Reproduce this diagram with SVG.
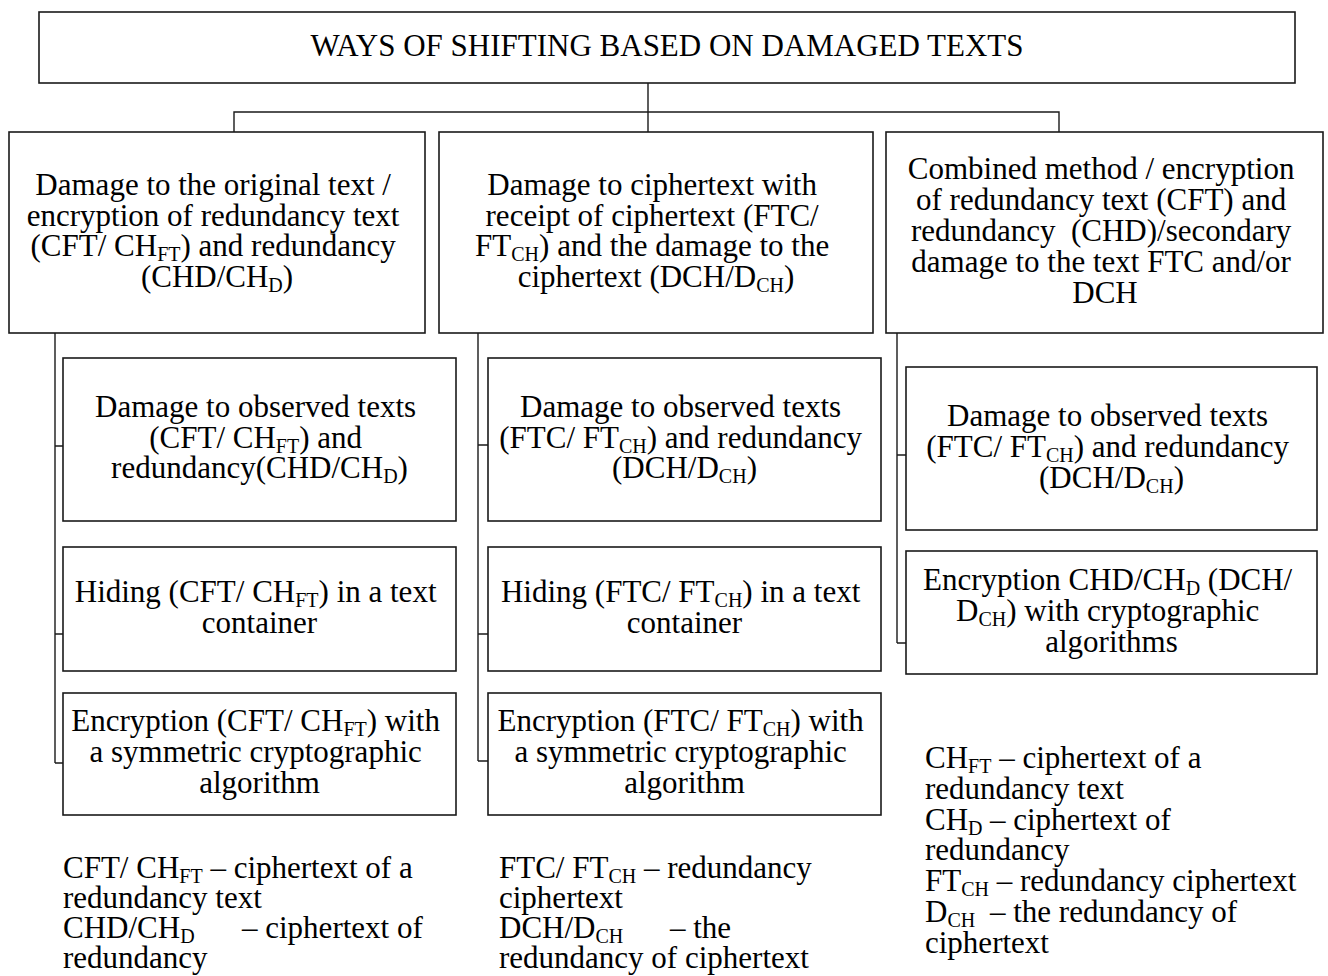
<svg xmlns="http://www.w3.org/2000/svg" width="1328" height="976" viewBox="0 0 1328 976">
<style>
.box{fill:#fff;stroke:#1a1a1a;stroke-width:1.6}
.ln{fill:none;stroke:#1a1a1a;stroke-width:1.4}
text{font-family:"Liberation Serif","Times New Roman",serif;font-size:31px;fill:#000}
.c{text-anchor:middle}
.s{font-size:20px}
</style>
<rect width="1328" height="976" fill="#fff"/>
<g id="connectors">
<path class="ln" d="M648,83 V132 M234,132 V112 H1059 V132"/>
<path class="ln" d="M55,333 V763 M55,446 H63 M55,634 H63 M55,763 H63"/>
<path class="ln" d="M478,333 V761 M478,445 H488 M478,634 H488 M478,761 H488"/>
<path class="ln" d="M897,333 V643 M897,455 H906 M897,643 H906"/>
</g>
<g id="root">
<rect class="box" x="39" y="12" width="1256" height="71"/>
<text class="c" x="667" y="56">WAYS OF SHIFTING BASED ON DAMAGED TEXTS</text>
</g>
<g id="m1">
<rect class="box" x="9" y="132" width="416" height="201"/>
<text class="c">
<tspan x="217" y="195">Damage to the original text /</tspan>
<tspan x="217" y="225.5">encryption of redundancy text</tspan>
<tspan x="217" y="256">(CFT/ CH</tspan><tspan class="s" dy="5">FT</tspan><tspan dy="-5">) and redundancy</tspan>
<tspan x="217" y="287">(CHD/CH</tspan><tspan class="s" dy="5">D</tspan><tspan dy="-5">)</tspan>
</text>
</g>
<g id="m2">
<rect class="box" x="439" y="132" width="434" height="201"/>
<text class="c">
<tspan x="656" y="195">Damage to ciphertext with</tspan>
<tspan x="656" y="225.5">receipt of ciphertext (FTC/</tspan>
<tspan x="656" y="256">FT</tspan><tspan class="s" dy="5">CH</tspan><tspan dy="-5">) and the damage to the</tspan>
<tspan x="656" y="287">ciphertext (DCH/D</tspan><tspan class="s" dy="5">CH</tspan><tspan dy="-5">)</tspan>
</text>
</g>
<g id="m3">
<rect class="box" x="886" y="132" width="437" height="201"/>
<text class="c">
<tspan x="1105" y="179">Combined method / encryption</tspan>
<tspan x="1105" y="210">of redundancy text (CFT) and</tspan>
<tspan x="1105" y="241">redundancy&#160; (CHD)/secondary</tspan>
<tspan x="1105" y="272">damage to the text FTC and/or</tspan>
<tspan x="1105" y="303">DCH</tspan>
</text>
</g>
<g id="a1">
<rect class="box" x="63" y="358" width="393" height="163"/>
<text class="c">
<tspan x="259.5" y="417">Damage to observed texts</tspan>
<tspan x="259.5" y="447.5">(CFT/ CH</tspan><tspan class="s" dy="5">FT</tspan><tspan dy="-5">) and</tspan>
<tspan x="259.5" y="478">redundancy(CHD/CH</tspan><tspan class="s" dy="5">D</tspan><tspan dy="-5">)</tspan>
</text>
</g>
<g id="b1">
<rect class="box" x="63" y="547" width="393" height="124"/>
<text class="c">
<tspan x="259.5" y="602">Hiding (CFT/ CH</tspan><tspan class="s" dy="5">FT</tspan><tspan dy="-5">) in a text</tspan>
<tspan x="259.5" y="632.5">container</tspan>
</text>
</g>
<g id="c1">
<rect class="box" x="63" y="693" width="393" height="122"/>
<text class="c">
<tspan x="259.5" y="731">Encryption (CFT/ CH</tspan><tspan class="s" dy="5">FT</tspan><tspan dy="-5">) with</tspan>
<tspan x="259.5" y="762">a symmetric cryptographic</tspan>
<tspan x="259.5" y="793">algorithm</tspan>
</text>
</g>
<g id="a2">
<rect class="box" x="488" y="358" width="393" height="163"/>
<text class="c">
<tspan x="684.5" y="417">Damage to observed texts</tspan>
<tspan x="684.5" y="447.5">(FTC/ FT</tspan><tspan class="s" dy="5">CH</tspan><tspan dy="-5">) and redundancy</tspan>
<tspan x="684.5" y="478">(DCH/D</tspan><tspan class="s" dy="5">CH</tspan><tspan dy="-5">)</tspan>
</text>
</g>
<g id="b2">
<rect class="box" x="488" y="547" width="393" height="124"/>
<text class="c">
<tspan x="684.5" y="602">Hiding (FTC/ FT</tspan><tspan class="s" dy="5">CH</tspan><tspan dy="-5">) in a text</tspan>
<tspan x="684.5" y="632.5">container</tspan>
</text>
</g>
<g id="c2">
<rect class="box" x="488" y="693" width="393" height="122"/>
<text class="c">
<tspan x="684.5" y="731">Encryption (FTC/ FT</tspan><tspan class="s" dy="5">CH</tspan><tspan dy="-5">) with</tspan>
<tspan x="684.5" y="762">a symmetric cryptographic</tspan>
<tspan x="684.5" y="793">algorithm</tspan>
</text>
</g>
<g id="a3">
<rect class="box" x="906" y="367" width="411" height="163"/>
<text class="c">
<tspan x="1111.5" y="426">Damage to observed texts</tspan>
<tspan x="1111.5" y="457">(FTC/ FT</tspan><tspan class="s" dy="5">CH</tspan><tspan dy="-5">) and redundancy</tspan>
<tspan x="1111.5" y="488">(DCH/D</tspan><tspan class="s" dy="5">CH</tspan><tspan dy="-5">)</tspan>
</text>
</g>
<g id="b3">
<rect class="box" x="906" y="551" width="411" height="123"/>
<text class="c">
<tspan x="1111.5" y="590">Encryption CHD/CH</tspan><tspan class="s" dy="5">D</tspan><tspan dy="-5"> (DCH/</tspan>
<tspan x="1111.5" y="621">D</tspan><tspan class="s" dy="5">CH</tspan><tspan dy="-5">) with cryptographic</tspan>
<tspan x="1111.5" y="652">algorithms</tspan>
</text>
</g>
<g id="legend1">
<text>
<tspan x="63" y="878">CFT/ CH</tspan><tspan class="s" dy="5">FT</tspan><tspan dy="-5"> – ciphertext of a</tspan>
<tspan x="63" y="908">redundancy text</tspan>
<tspan x="63" y="938">CHD/CH</tspan><tspan class="s" dy="5">D</tspan><tspan x="242" y="938">– ciphertext of</tspan>
<tspan x="63" y="968">redundancy</tspan>
</text>
</g>
<g id="legend2">
<text>
<tspan x="499" y="878">FTC/ FT</tspan><tspan class="s" dy="5">CH</tspan><tspan dy="-5"> – redundancy</tspan>
<tspan x="499" y="908">ciphertext</tspan>
<tspan x="499" y="938">DCH/D</tspan><tspan class="s" dy="5">CH</tspan><tspan x="670" y="938">– the</tspan>
<tspan x="499" y="968">redundancy of ciphertext</tspan>
</text>
</g>
<g id="legend3">
<text>
<tspan x="925" y="768">CH</tspan><tspan class="s" dy="5">FT</tspan><tspan dy="-5"> – ciphertext of a</tspan>
<tspan x="925" y="799">redundancy text</tspan>
<tspan x="925" y="830">CH</tspan><tspan class="s" dy="5">D</tspan><tspan x="990" y="830">– ciphertext of</tspan>
<tspan x="925" y="860">redundancy</tspan>
<tspan x="925" y="891">FT</tspan><tspan class="s" dy="5">CH</tspan><tspan dy="-5"> – redundancy ciphertext</tspan>
<tspan x="925" y="922">D</tspan><tspan class="s" dy="5">CH</tspan><tspan x="990" y="922">– the redundancy of</tspan>
<tspan x="925" y="953">ciphertext</tspan>
</text>
</g>
</svg>
